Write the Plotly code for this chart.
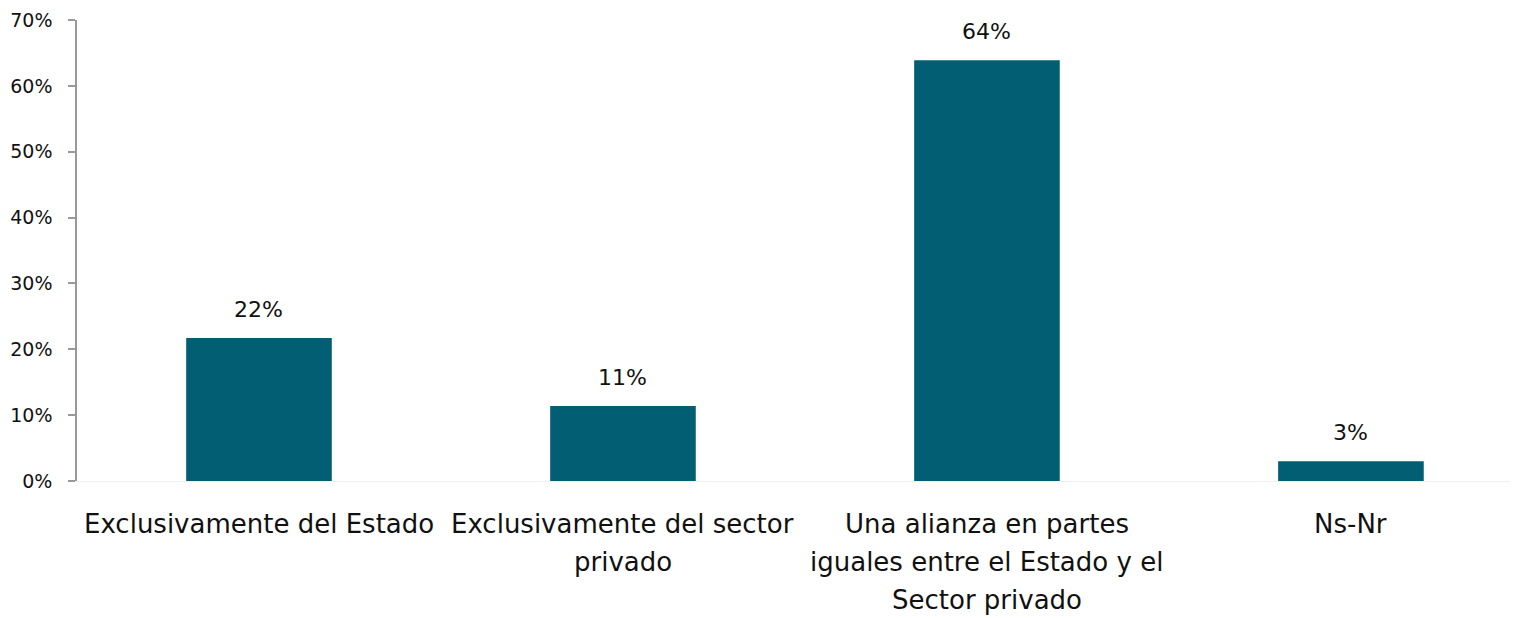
import plotly.graph_objects as go

categories = ["Exclusivamente del Estado",
              "Exclusivamente del sector\nprivado",
              "Una alianza en partes\niguales entre el Estado y el\nSector privado",
              "Ns-Nr"]
values = [21.7, 11.4, 63.9, 3.0]
tick_vals = [0, 10, 20, 30, 40, 50, 60, 70]
tick_text = ["0%", "10%", "20%", "30%", "40%", "50%", "60%", "70%"]

FONT = "DejaVu Sans"
BAR = "#025e73"
TXT = "#111111"

fig = go.Figure(go.Bar(
    x=list(range(len(categories))), y=values,
    marker=dict(color=BAR, line=dict(width=0)),
    hoverinfo="skip",
))

annotations = []
for i, v in enumerate(values):
    annotations.append(dict(
        x=i, y=v, xref="x", yref="y", text=f"{v:.0f}%", showarrow=False,
        yanchor="bottom", xanchor="center", yshift=14,
        font=dict(family=FONT, size=22, color=TXT)))
for i, lab in enumerate(categories):
    for j, line in enumerate(lab.split("\n")):
        annotations.append(dict(
            x=i, y=0, xref="x", yref="y", text=line, showarrow=False,
            yanchor="middle", xanchor="center", yshift=-(43 + 38 * j),
            font=dict(family=FONT, size=26, color=TXT)))

fig.update_layout(
    width=1516, height=610,
    margin=dict(l=69, r=14, t=12, b=137),
    paper_bgcolor="white", plot_bgcolor="white",
    bargap=0.6, showlegend=False,
    annotations=annotations,
    xaxis=dict(range=[-0.5, 3.437], showticklabels=False, ticks="",
               showline=True, linecolor="#f0f0f0", linewidth=1,
               showgrid=False, zeroline=False, automargin=False),
    yaxis=dict(range=[0, 70], tickvals=tick_vals, ticktext=tick_text,
               showline=True, linecolor="#999999", linewidth=1.5,
               ticks="outside", ticklen=7, tickcolor="#999999", tickwidth=1.5,
               ticklabelstandoff=12,
               showgrid=False, zeroline=False, automargin=False,
               tickfont=dict(family=FONT, size=19, color=TXT)),
)

fig.write_html("out.html")
